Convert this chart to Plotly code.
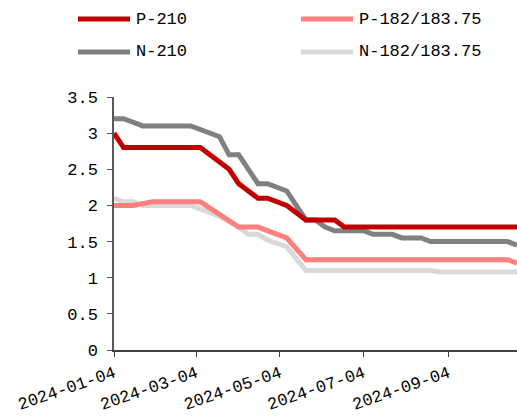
import plotly.graph_objects as go

# Weekly fixing levels (breakpoints), 2024
p210_dates = ["2024-01-04", "2024-01-11", "2024-03-07", "2024-03-28", "2024-04-04",
              "2024-04-18", "2024-04-25", "2024-05-09", "2024-05-23", "2024-06-13",
              "2024-06-20", "2024-10-24"]
p210_vals = [3.0, 2.8, 2.8, 2.5, 2.3, 2.1, 2.1, 2.0, 1.8, 1.8, 1.7, 1.7]

n210_dates = ["2024-01-04", "2024-01-11", "2024-01-25", "2024-02-29", "2024-03-21",
              "2024-03-28", "2024-04-04", "2024-04-18", "2024-04-25", "2024-05-09",
              "2024-05-23", "2024-05-30", "2024-06-06", "2024-06-13", "2024-07-04",
              "2024-07-11", "2024-07-25", "2024-08-01", "2024-08-15", "2024-08-22",
              "2024-10-17", "2024-10-24"]
n210_vals = [3.2, 3.2, 3.1, 3.1, 2.95, 2.7, 2.7, 2.3, 2.3, 2.2, 1.8, 1.8, 1.7, 1.65,
             1.65, 1.6, 1.6, 1.55, 1.55, 1.5, 1.5, 1.45]

p182_dates = ["2024-01-04", "2024-01-18", "2024-02-01", "2024-03-07", "2024-04-04",
              "2024-04-18", "2024-05-09", "2024-05-23", "2024-10-17", "2024-10-24"]
p182_vals = [2.0, 2.0, 2.05, 2.05, 1.7, 1.7, 1.55, 1.25, 1.25, 1.2]

n182_dates = ["2024-01-04", "2024-01-11", "2024-01-18", "2024-01-25", "2024-02-29",
              "2024-03-21", "2024-04-04", "2024-04-11", "2024-04-18", "2024-04-25",
              "2024-05-09", "2024-05-23", "2024-08-22", "2024-08-29", "2024-10-24"]
n182_vals = [2.1, 2.05, 2.05, 2.0, 2.0, 1.85, 1.7, 1.6, 1.6, 1.52, 1.43, 1.1, 1.1,
             1.08, 1.08]

tick_dates = ["2024-01-04", "2024-03-04", "2024-05-04", "2024-07-04", "2024-09-04"]
y_ticks = [0, 0.5, 1, 1.5, 2, 2.5, 3, 3.5]

FONT = "Liberation Mono"
series = [
    ("P-210", p210_dates, p210_vals, "#C00000"),
    ("P-182/183.75", p182_dates, p182_vals, "#FF7F7F"),
    ("N-210", n210_dates, n210_vals, "#808080"),
    ("N-182/183.75", n182_dates, n182_vals, "#D9D9D9"),
]

fig = go.Figure()
# draw order: light series first so dark ones sit on top
for name, d, v, c in [series[3], series[1], series[2], series[0]]:
    fig.add_trace(go.Scatter(x=d, y=v, mode="lines", name=name,
                             line=dict(color=c, width=5), showlegend=False))

# legend drawn as two rows of two entries
legend_pos = [(78, 19), (301, 19), (78, 52), (301, 52)]
W, H = 517, 416
shapes, annos = [], []
for (name, _, _, c), (lx, ly) in zip(series, legend_pos):
    shapes.append(dict(type="line", xref="paper", yref="paper",
                       x0=(lx - 114) / (W - 114), x1=(lx + 52 - 114) / (W - 114),
                       y0=(350 - ly) / (350 - 97), y1=(350 - ly) / (350 - 97),
                       line=dict(color=c, width=5)))
    annos.append(dict(text=name, xref="paper", yref="paper", showarrow=False,
                      x=(lx + 56 - 114) / (W - 114), y=(350 - ly) / (350 - 97),
                      xanchor="left", yanchor="middle",
                      font=dict(family=FONT, size=17, color="black")))

fig.update_layout(
    width=W, height=H,
    margin=dict(l=114, r=0, t=97, b=66),
    paper_bgcolor="white", plot_bgcolor="white",
    shapes=shapes, annotations=annos,
    xaxis=dict(range=["2024-01-04", "2024-10-24"], tickvals=tick_dates,
               ticktext=tick_dates, tickangle=-19, showgrid=False, zeroline=False,
               showline=True, linecolor="#404040", linewidth=1.5,
               ticks="outside", ticklen=5, tickcolor="#404040",
               tickfont=dict(family=FONT, size=17, color="black"), automargin=False),
    yaxis=dict(range=[0, 3.5], tickvals=y_ticks,
               ticktext=["0", "0.5", "1", "1.5", "2", "2.5", "3", "3.5"],
               showgrid=False, zeroline=False, showline=True, linecolor="#595959",
               linewidth=1.5, ticks="outside", ticklen=5, tickcolor="#595959",
               ticklabelstandoff=6,
               tickfont=dict(family=FONT, size=17, color="black"), automargin=False),
)

fig.write_html("out.html")
